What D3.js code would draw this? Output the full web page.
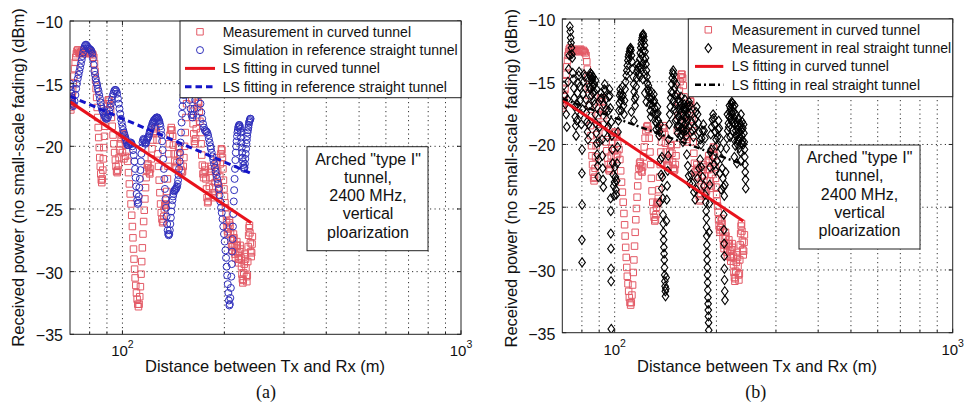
<!DOCTYPE html>
<html>
<head>
<meta charset="utf-8">
<script src="https://cdn.jsdelivr.net/npm/d3@7"></script>
<style>
  html, body { margin: 0; padding: 0; background: #fff; }
  svg { display: block; }
  text { font-family: "Liberation Sans", Arial, Helvetica, sans-serif; fill: #111; }
</style>
</head>
<body>
<svg id="fig" width="965" height="409"></svg>
<script>
// Received power vs Tx-Rx distance, [distance (m), power (dBm)]
const curvedMeasurement = [
  [70.0,-16.9],[70.2,-16.5],[70.4,-17.1],[70.6,-16.7],[70.8,-16.2],[71.0,-16.0],
  [71.3,-15.6],[71.6,-15.0],[71.9,-14.4],[72.2,-13.8],[72.5,-13.3],[72.8,-12.9],[73.1,-12.6],[73.4,-12.4],
  [73.8,-12.3],[74.3,-12.5],[74.8,-12.6],[75.3,-12.5],[75.8,-12.4],[76.3,-12.5],[76.8,-12.6],[77.3,-12.5],[77.8,-12.5],[78.3,-12.6],[78.8,-12.5],[79.3,-12.4],[79.8,-12.5],[80.3,-12.6],[80.8,-12.5],[81.3,-12.6],[81.8,-12.7],[82.3,-12.9],
  [82.7,-13.4],[83.0,-14.0],[83.3,-14.7],[83.6,-15.4],[83.9,-16.1],[84.2,-16.9],[84.5,-17.7],[84.8,-18.5],[85.1,-19.3],[85.4,-20.1],[85.7,-20.9],[86.0,-21.6],[86.3,-22.2],[86.6,-22.7],[86.9,-22.9],[87.2,-22.6],
  [87.5,-21.9],[87.8,-21.0],[88.1,-20.1],[88.5,-19.2],[88.9,-18.4],[89.3,-17.7],[89.8,-17.1],[90.3,-16.6],[90.8,-16.3],[91.3,-16.3],[91.8,-16.6],
  [92.3,-17.1],[92.8,-17.7],[93.3,-18.4],[93.8,-19.1],[94.3,-19.8],[94.8,-20.5],[95.3,-21.1],[95.7,-21.6],[96.1,-22.0],[96.5,-22.1],[96.9,-21.9],[97.3,-21.5],
  [97.7,-20.9],[98.1,-20.3],[98.6,-19.8],[99.1,-19.4],[99.7,-19.1],[100.3,-19.0],[100.9,-19.1],[101.5,-19.4],[102.1,-19.9],
  [100.0,-20.5],[101.0,-21.0],[102.0,-20.8],
  [103.0,-20.4],[103.6,-21.2],[104.2,-22.1],[104.8,-23.0],[105.4,-23.8],[106.0,-24.6],[106.5,-25.5],[107.0,-26.4],[107.4,-27.3],[107.8,-28.2],[108.2,-29.0],[108.6,-29.8],[109.0,-30.5],[109.5,-31.1],[110.0,-31.7],[110.5,-32.2],[111.0,-32.6],[111.5,-32.8],[112.0,-32.6],[112.5,-32.0],[113.0,-31.2],[113.5,-30.2],[114.0,-29.2],[114.5,-28.1],[115.0,-27.0],[115.5,-26.0],[116.0,-25.1],
  [116.5,-24.2],[117.0,-23.3],[117.5,-22.5],[118.0,-21.9],[118.5,-21.5],[119.0,-21.4],[119.5,-21.7],[120.0,-22.1],[120.5,-22.2],
  [121.0,-21.8],[121.7,-21.0],[122.3,-20.2],[123.0,-19.5],[123.7,-18.9],[124.4,-18.6],[125.1,-18.5],[125.8,-18.8],[126.5,-19.5],
  [127.2,-20.6],[127.8,-21.6],[128.4,-22.7],[129.0,-23.7],[129.6,-24.6],[130.2,-25.3],[130.8,-25.8],[131.4,-26.1],[132.0,-26.0],[132.5,-25.6],[133.0,-25.0],[133.4,-24.7],[133.8,-24.6],[134.2,-24.7],[134.6,-24.3],
  [135.2,-23.6],[135.8,-22.6],[136.4,-21.6],[137.0,-20.6],[137.6,-19.8],[138.2,-19.1],[138.8,-18.7],[139.4,-18.5],[140.0,-18.7],[140.7,-19.2],[141.4,-19.9],[142.1,-20.6],[142.8,-21.2],[143.5,-21.6],[144.2,-21.7],[144.9,-21.3],[145.6,-20.6],[146.3,-20.0],[147.0,-20.1],[147.7,-20.7],[148.4,-21.4],[149.1,-21.9],[149.8,-22.1],[150.5,-22.0],[151.2,-21.6],[151.9,-20.9],
  [152.6,-20.0],[153.3,-18.9],[154.0,-17.7],[154.7,-16.6],[155.4,-15.7],[156.1,-15.0],[156.8,-14.6],[157.5,-14.4],[158.2,-14.4],[158.9,-14.7],[159.6,-15.3],[160.3,-16.2],[161.0,-17.2],[161.7,-18.2],[162.4,-19.0],[163.1,-19.6],[163.8,-19.8],[164.5,-19.4],[165.2,-18.6],[165.9,-17.7],[166.6,-16.9],[167.3,-16.5],[168.0,-16.6],[168.7,-17.2],[169.4,-18.0],[170.1,-18.9],[170.8,-19.8],[171.5,-20.7],[172.2,-21.5],[172.9,-22.2],[173.6,-22.5],[174.3,-22.1],[175.0,-21.6],[175.7,-21.9],[176.4,-22.6],[177.1,-23.4],[177.8,-24.1],[178.5,-24.5],[179.2,-24.4],[179.9,-23.9],[180.6,-23.2],[181.3,-22.5],
  [182.0,-22.0],[182.7,-21.6],[183.4,-21.8],[184.1,-22.5],[184.8,-23.3],[185.5,-23.9],[186.2,-24.1],[186.9,-23.7],[187.6,-22.9],[188.3,-22.0],[189.0,-21.3],[189.7,-20.9],[190.4,-21.2],[191.1,-22.0],[191.8,-22.9],[192.5,-23.5],[193.2,-23.3],[193.9,-22.4],[194.6,-21.4],[195.3,-20.6],[196.0,-20.2],[196.7,-20.3],[197.4,-20.9],[198.1,-21.8],[198.8,-22.7],[199.5,-23.4],[200.2,-24.0],[200.9,-24.5],
  [201.6,-24.9],[202.3,-25.4],[203.0,-26.0],[203.7,-26.5],[204.4,-26.8],[205.1,-27.0],[205.8,-26.6],[206.5,-26.1],[207.2,-25.9],[207.9,-26.3],[208.6,-26.9],[209.3,-27.5],[210.0,-28.0],[210.7,-28.3],[211.4,-28.0],[212.1,-27.4],[212.8,-27.0],[213.5,-27.3],[214.2,-27.9],[214.9,-28.6],
  [215.6,-28.9],[216.3,-28.4],[217.0,-27.9],[217.7,-27.6],[218.4,-27.9],[219.1,-28.5],[219.8,-29.0],[220.5,-29.3],[221.2,-29.0],[221.9,-28.4],[222.6,-27.9],[223.3,-28.2],[224.0,-28.9],[224.7,-29.6],[225.4,-30.2],[226.1,-30.6],[226.8,-30.9],[227.5,-30.7],[228.2,-30.1],[228.9,-29.4],[229.6,-28.8],[230.3,-28.6],[231.0,-29.0],[231.7,-29.7],[232.4,-30.4],[233.1,-30.8],[233.8,-30.3],[234.5,-29.2],[235.2,-28.0],[235.9,-27.1],[236.6,-26.5],[237.3,-26.3],[238.0,-26.9],[238.7,-27.7],[239.4,-28.4],[240.1,-28.8],[240.8,-28.5],[241.5,-27.8],[242.0,-27.2]
];

const referenceSimulation = [
  [70.0,-15.0],[70.2,-15.2],[70.4,-15.5],[70.6,-15.8],[70.8,-16.1],[71.0,-16.4],[71.2,-16.6],[71.5,-16.8],[71.8,-16.7],
  [72.2,-16.4],[72.6,-15.9],[73.0,-15.4],[73.4,-15.0],[73.8,-14.6],[74.2,-14.3],[74.6,-14.0],[75.0,-13.7],[75.4,-13.4],[75.8,-13.1],[76.2,-12.8],[76.6,-12.5],[77.0,-12.2],[77.4,-12.0],[77.8,-11.9],[78.2,-11.9],[78.6,-12.0],[79.0,-12.1],[79.4,-12.2],[79.8,-12.2],[80.2,-12.3],[80.6,-12.3],[81.0,-12.4],[81.4,-12.6],
  [81.8,-13.0],[82.2,-13.5],[82.6,-14.0],[83.0,-14.3],[83.4,-14.6],[83.8,-14.9],[84.2,-15.1],[84.6,-15.4],[85.0,-15.6],[85.4,-15.9],[85.8,-16.2],[86.2,-16.5],[86.6,-16.8],[87.0,-17.0],[87.4,-17.2],[87.8,-17.3],[88.2,-17.5],[88.6,-17.6],[89.0,-17.7],[89.4,-17.8],
  [90.0,-17.8],[90.5,-17.7],[91.0,-17.5],[91.5,-17.2],[92.0,-16.9],[92.5,-16.6],[93.0,-16.3],[93.5,-16.0],[94.0,-15.8],[94.5,-15.6],[95.0,-15.5],[95.5,-15.5],[96.0,-15.6],[96.5,-15.8],[97.0,-16.2],[97.5,-16.6],[98.0,-17.0],[98.5,-17.4],[99.0,-17.8],[99.5,-18.1],[100.0,-18.4],[100.5,-18.7],[101.0,-18.9],[101.5,-19.1],[102.0,-19.3],[102.5,-19.5],[103.0,-19.7],[103.5,-19.9],
  [104.0,-19.9],[104.5,-19.9],[105.0,-19.8],[105.5,-19.7],[106.0,-19.7],[106.5,-19.8],[107.0,-20.0],[107.5,-20.3],[108.0,-20.7],[108.5,-21.2],[109.0,-21.8],[109.4,-22.5],[109.8,-23.2],[110.2,-23.8],[110.6,-24.3],[111.0,-24.6],[111.4,-24.5],[111.8,-24.0],[112.2,-23.3],[112.6,-22.6],[113.0,-21.9],[113.4,-21.2],[113.8,-20.6],[114.2,-20.1],[114.6,-19.7],[115.0,-19.5],[115.5,-19.4],[116.0,-19.5],[116.5,-19.7],[117.0,-19.8],[117.5,-19.7],[118.0,-19.5],
  [118.5,-19.4],[119.0,-19.3],[119.5,-19.2],[120.0,-19.0],[120.5,-18.8],[121.0,-18.7],[121.5,-18.5],[122.0,-18.4],[122.5,-18.2],[123.0,-18.1],[123.5,-18.0],[124.0,-17.9],[124.5,-17.9],[125.0,-17.8],[125.5,-17.8],[126.0,-17.7],[126.5,-17.7],[127.0,-17.7],[127.5,-17.8],[128.0,-17.9],[128.5,-18.0],[129.0,-18.2],[129.5,-18.4],[130.0,-18.7],
  [130.5,-19.1],[131.0,-19.6],[131.5,-20.3],[132.0,-21.0],[132.5,-21.8],[133.0,-22.6],[133.5,-23.4],[134.0,-24.2],[134.5,-24.9],[135.0,-25.6],[135.5,-26.2],[136.0,-26.7],[136.5,-27.0],[137.0,-27.1],[137.5,-27.0],[138.0,-26.7],[138.5,-26.2],[139.0,-25.7],[139.5,-25.2],[140.0,-24.7],[140.5,-24.3],[141.0,-24.0],[141.5,-23.8],[142.0,-23.6],[142.5,-23.5],[143.0,-23.5],[143.5,-23.4],[144.0,-23.4],[144.5,-23.3],[145.0,-23.2],[145.5,-23.0],[146.0,-22.7],[146.5,-22.3],[147.0,-21.8],[147.5,-21.2],[148.0,-20.5],[148.5,-19.7],[149.0,-18.9],[149.5,-18.1],[150.0,-17.4],[150.5,-16.8],[151.0,-16.3],[151.5,-15.9],[152.0,-15.5],
  [153.0,-15.0],[154.0,-14.6],[155.0,-14.5],[156.0,-14.8],[157.0,-15.5],[158.0,-16.3],[159.0,-17.0],[160.0,-17.5],[161.0,-17.7],[162.0,-17.5],[163.0,-17.0],[164.0,-16.3],[165.0,-15.6],[166.0,-15.1],[167.0,-15.0],[168.0,-15.3],[169.0,-15.9],[170.0,-16.6],[171.0,-17.3],[172.0,-17.8],[173.0,-18.2],[174.0,-18.5],[175.0,-18.7],[176.0,-18.8],[177.0,-18.8],[178.0,-18.9],[179.0,-19.1],[180.0,-19.4],[181.0,-19.7],[182.0,-20.0],
  [182.5,-20.2],[183.5,-20.5],[184.5,-20.8],[185.5,-21.1],[186.5,-21.4],[187.5,-21.7],[188.5,-22.0],[189.5,-22.3],[190.5,-22.6],[191.5,-23.0],[192.5,-23.4],[193.5,-23.9],[194.5,-24.4],[195.5,-24.9],[196.5,-25.3],[197.5,-25.8],[198.5,-26.4],[199.5,-27.0],[200.5,-27.6],[201.5,-28.3],[202.3,-28.9],[203.1,-29.6],[203.9,-30.3],[204.7,-31.0],[205.5,-31.7],[206.2,-32.3],[206.9,-32.7],[207.6,-32.6],[208.3,-32.1],[209.0,-31.3],[209.6,-30.4],[210.2,-29.4],[210.8,-28.4],[211.4,-27.4],[212.0,-26.4],[212.6,-25.4],[213.2,-24.4],[213.8,-23.5],[214.4,-22.6],[215.0,-21.8],[215.6,-21.1],[216.2,-20.5],[216.8,-20.0],[217.4,-19.6],[218.0,-19.2],[218.6,-18.9],[219.2,-18.7],[219.8,-18.5],[220.4,-18.4],[221.0,-18.3],[221.6,-18.3],[222.2,-18.4],[222.8,-18.6],[223.4,-18.9],[224.0,-19.3],[224.6,-19.7],[225.2,-20.1],[225.8,-20.5],[226.4,-20.9],[227.0,-21.2],[227.6,-21.5],[228.2,-21.7],[228.8,-21.8],[229.4,-21.7],[230.0,-21.4],[230.6,-21.0],[231.2,-20.6],[231.8,-20.2],[232.4,-19.8],[233.0,-19.5],[233.6,-19.2],[234.2,-18.9],[234.8,-18.7],[235.4,-18.5],[236.0,-18.3],[236.6,-18.1],[237.2,-18.0],[237.8,-17.9],[238.4,-17.8],[239.0,-17.8]
];

const straightMeasurement = [
  [70.8,-15.3],[71.2,-16.1],[71.5,-16.8],[71.9,-17.6],[72.2,-18.6],[72.5,-16.4],[72.8,-15.0],[73.1,-14.0],[73.4,-12.9],[73.7,-10.6],[73.9,-11.0],[74.1,-11.5],[74.3,-11.9],[74.5,-12.3],[74.7,-12.8],[74.9,-13.1],
  [75.2,-14.3],[75.4,-14.8],[75.7,-15.5],[75.9,-16.3],[76.2,-17.0],[76.4,-17.8],[76.7,-18.5],[76.9,-19.3],[77.2,-18.1],[77.5,-16.8],[77.7,-15.9],[78.0,-15.1],[78.3,-14.5],[78.5,-14.2],[78.8,-15.4],[79.1,-16.5],[79.4,-17.6],[79.7,-18.4],
  [80.1,-20.4],[80.0,-22.3],[80.1,-24.8],[80.0,-27.6],[80.1,-29.4],[80.4,-17.2],[80.7,-16.0],[81.0,-15.0],[81.2,-14.4],
  [81.6,-14.6],[81.9,-15.5],[82.2,-16.4],[82.5,-17.5],[82.8,-18.2],[83.1,-19.0],[83.4,-19.6],[83.7,-18.4],[84.0,-16.9],[84.3,-15.4],[84.6,-14.5],[84.8,-14.3],[85.0,-14.6],[85.2,-14.9],[85.4,-14.4],[85.6,-14.7],[85.8,-15.1],[86.0,-14.8],[86.2,-15.4],[86.4,-15.9],[86.7,-16.5],[87.0,-15.8],[87.3,-16.8],[87.6,-17.6],[87.9,-18.3],[88.2,-19.1],[88.5,-19.9],[88.8,-20.8],[89.1,-21.7],[89.4,-22.6],[89.7,-21.2],[90.0,-19.8],[90.3,-18.6],[90.6,-17.4],[90.9,-16.4],[91.2,-15.9],[91.5,-16.3],[91.8,-19.6],[92.0,-20.9],[92.2,-21.9],[92.4,-22.8],[92.6,-23.4],
  [84.7,-15.6],[85.5,-16.1],[86.3,-14.6],[87.1,-15.2],[87.8,-14.9],[88.4,-15.6],
  [92.9,-16.8],[93.2,-15.6],[93.5,-15.2],[93.8,-15.7],[94.1,-16.4],[94.4,-17.2],[94.7,-18.0],[95.0,-18.7],[95.3,-19.4],[95.6,-18.6],[95.9,-17.3],[96.2,-16.2],[96.5,-15.6],[96.8,-16.1],[97.1,-17.1],
  [97.3,-24.3],[97.4,-25.3],[97.4,-27.1],[97.5,-28.3],[97.6,-29.9],[97.6,-30.9],[97.7,-34.7],[97.8,-18.2],[98.1,-19.3],
  [98.4,-20.4],[98.7,-21.5],[99.0,-22.4],[99.3,-23.3],[99.6,-24.1],[99.9,-23.0],[100.2,-21.8],[100.5,-22.6],[100.8,-23.6],[101.1,-24.0],[101.4,-22.9],[101.7,-21.5],[102.0,-20.2],[102.3,-19.0],[102.6,-18.1],[102.9,-17.3],[103.2,-16.7],[103.5,-16.1],[103.8,-15.6],[104.1,-15.9],[104.4,-16.5],[104.7,-17.3],
  [105.0,-16.2],[105.4,-15.4],[105.8,-16.1],[106.2,-16.9],[106.6,-17.6],[107.0,-16.5],[107.4,-15.6],[107.8,-15.0],[108.2,-14.5],[108.6,-14.1],[109.0,-13.7],[109.4,-13.3],[109.8,-13.0],[110.2,-12.8],[110.6,-12.6],[111.0,-12.4],[111.4,-12.3],[111.8,-12.5],[112.2,-12.9],[112.6,-13.4],[113.0,-14.0],[113.4,-14.6],[113.8,-15.2],[114.2,-15.8],[114.6,-16.4],[115.0,-16.9],[115.4,-16.2],[115.8,-15.4],[116.2,-14.7],[116.6,-14.1],[117.0,-13.6],[117.4,-13.9],[117.8,-14.4],[112.0,-17.4],[114.0,-18.1],
  [118.2,-13.8],[118.6,-13.2],[119.0,-12.7],[119.4,-12.3],[119.8,-12.0],[120.2,-11.7],[120.6,-11.5],[121.0,-11.3],[121.4,-11.2],[121.8,-11.4],[122.2,-11.7],[122.6,-12.1],[123.0,-12.6],[123.4,-13.1],[123.8,-13.6],[124.2,-14.1],[124.6,-14.6],[125.0,-15.1],[125.4,-15.6],[125.8,-15.3],[126.2,-15.8],[126.6,-16.3],[127.0,-16.8],[127.4,-17.3],[127.8,-17.8],
  [120.0,-12.9],[120.8,-13.6],[121.6,-12.5],[122.4,-13.3],[123.2,-14.4],[121.2,-14.8],[119.6,-13.9],[118.8,-14.6],[122.8,-15.9],[124.0,-16.6],
  [128.2,-16.4],[128.6,-15.8],[129.0,-16.2],[129.4,-16.9],[129.8,-17.5],[130.2,-16.6],[130.6,-16.0],[131.0,-16.5],[131.4,-17.1],[131.8,-17.6],[132.2,-18.2],[132.6,-18.8],[133.0,-18.3],[133.4,-17.6],[133.8,-17.0],[134.2,-17.5],[134.6,-18.1],[135.0,-18.7],[135.4,-19.3],[135.8,-19.0],[136.2,-18.4],
  [136.6,-21.2],[137.2,-22.4],[137.8,-23.5],[136.0,-24.6],
  [138.0,-21.0],[138.4,-22.6],[138.8,-24.3],[139.0,-25.6],[139.2,-26.3],[139.4,-27.0],[139.6,-27.6],[139.8,-28.2],[140.0,-28.7],[140.2,-29.2],[140.4,-29.8],[140.6,-30.4],[140.8,-30.9],[141.0,-31.3],[141.2,-31.7],[141.4,-32.1],[141.7,-31.5],[142.0,-30.6],[142.3,-26.1],[142.6,-24.4],[143.0,-23.3],[143.5,-22.1],[144.0,-20.9],[144.5,-19.6],[145.0,-18.4],[145.5,-17.6],[146.0,-17.0],[146.5,-16.3],
  [147.0,-15.8],[147.5,-15.2],[148.0,-14.7],[148.5,-14.3],[149.0,-14.1],[149.5,-14.4],[150.0,-14.9],[150.5,-15.5],[151.0,-16.1],[151.5,-16.8],[152.0,-17.4],[152.5,-18.0],[153.0,-18.6],[153.5,-19.1],[154.0,-18.5],[154.5,-17.8],[155.0,-17.2],[155.5,-16.6],[156.0,-16.9],[156.5,-17.5],[157.0,-18.1],[157.5,-18.7],[158.0,-19.2],[158.5,-18.9],[159.0,-18.2],[159.5,-17.6],[160.0,-17.1],[160.5,-16.8],[161.0,-17.3],[161.5,-17.9],[162.0,-18.4],[162.5,-18.9],[163.0,-19.3],[163.5,-18.8],[164.0,-18.1],[164.5,-17.5],[165.0,-17.0],
  [148.2,-15.9],[149.2,-16.5],[150.2,-17.2],[151.2,-18.1],[152.2,-15.2],[153.2,-16.0],[154.2,-16.4],[155.2,-18.6],[156.2,-19.3],[157.2,-16.2],[158.2,-17.0],[159.2,-19.8],[160.2,-18.8],[161.2,-16.4],[162.2,-17.1],[163.2,-17.8],[164.2,-16.8],
  [163.5,-20.8],[164.5,-21.7],[165.5,-22.5],[166.5,-23.1],
  [166.0,-16.6],[167.0,-16.9],[168.0,-17.5],[169.0,-18.2],[170.0,-18.9],[171.0,-19.4],[172.0,-18.7],[173.0,-18.0],[174.0,-17.4],[175.0,-17.0],[176.0,-17.6],[177.0,-18.3],[178.0,-19.0],[179.0,-19.6],[180.0,-20.0],[181.0,-19.5],[182.0,-18.9],[183.0,-18.4],[184.0,-18.9],[185.0,-19.5],
  [168.5,-22.4],[170.0,-23.1],[171.5,-23.8],[173.0,-24.4],[174.5,-23.6],[176.0,-22.7],[177.5,-21.9],[179.0,-21.2],[180.5,-21.8],[182.0,-22.6],[183.5,-23.3],[185.0,-24.0],[186.0,-24.6],[186.5,-25.3],
  [186.8,-25.9],[187.0,-26.6],[187.2,-27.3],[187.4,-28.0],[187.6,-28.6],[187.8,-29.2],[188.0,-29.8],[188.2,-30.4],[188.4,-31.0],[188.6,-31.6],[188.8,-32.2],[189.0,-32.7],[189.2,-33.2],[189.4,-33.7],[189.6,-34.2],[189.8,-34.8],[190.2,-27.0],[190.6,-24.7],[191.0,-23.2],[191.5,-21.8],[192.0,-20.6],
  [192.5,-19.2],[193.5,-18.6],[194.5,-18.0],[195.5,-17.6],[196.5,-17.9],[197.5,-18.4],[198.5,-19.0],[199.5,-19.6],[200.5,-20.1],[201.5,-19.4],[202.5,-18.8],[193.0,-20.4],[195.0,-21.0],[197.0,-21.6],[199.0,-22.1],[201.0,-21.3],
  [203.0,-18.1],[204.0,-18.7],[205.0,-19.5],[206.0,-20.3],[207.0,-21.1],[208.0,-21.9],[209.0,-22.7],[210.0,-23.4],[211.0,-24.1],[212.0,-23.2],[213.0,-22.2],[204.5,-22.3],[206.5,-23.6],
  [210.2,-25.6],[210.5,-26.8],[210.8,-27.9],[211.0,-28.9],[211.2,-29.9],[211.4,-30.8],[211.7,-31.7],[212.0,-32.4],
  [214.0,-20.3],[215.0,-19.5],[216.0,-18.9],[217.0,-18.3],[218.0,-17.8],[219.0,-17.4],[220.0,-17.1],[221.0,-16.8],[222.0,-16.6],[223.0,-16.7],[224.0,-17.0],[225.0,-17.4],[226.0,-17.9],[227.0,-18.4],[228.0,-18.9],[229.0,-19.3],[230.0,-19.7],[231.0,-20.0],[232.0,-19.6],[233.0,-19.1],[234.0,-18.6],[235.0,-18.3],[236.0,-18.5],[237.0,-18.9],[238.0,-19.3],[239.0,-19.7],[240.0,-20.0],
  [215.5,-17.6],[217.5,-18.6],[219.5,-19.4],[221.5,-18.1],[223.5,-18.9],[225.5,-19.6],[227.5,-20.1],[229.5,-18.2],[231.5,-18.8],[233.5,-20.3],[235.5,-20.6],[237.5,-19.9],[239.5,-18.7],
  [218.5,-16.9],[220.5,-17.9],[222.5,-17.5],[224.5,-18.2],[226.5,-16.9],[228.5,-17.6],[230.5,-18.5],[232.5,-17.9],[234.5,-19.5],[236.5,-17.6],[238.5,-18.2],[226.0,-21.0],[230.0,-21.5],[236.0,-21.3],
  [240.8,-18.4],[241.3,-19.1],[241.8,-19.8],[242.2,-20.4],[242.6,-21.0],[243.0,-21.6],[243.4,-22.2],[243.8,-22.8],[244.2,-23.5]
];

// Least-squares fits (end points of each fitted line)
const fitCurved    = [[70, -16.45], [240, -26.1]];
const fitReference = [[70, -16.0],  [242, -22.2]];
const fitStraight  = [[70, -16.35], [241, -21.6]];

// Axis ticks
const yTickValues = [-10, -15, -20, -25, -30, -35];
const yGridValues = [-15, -20, -25, -30];
const xGridValues = [80, 90, 100, 200, 300, 400, 500, 600, 700, 800, 900];
const xMinorTicks = [80, 90, 200, 300, 400, 500, 600, 700, 800, 900];
const xMajorTicks = [100, 1000];
const xTickLabels = [["10", "2"], ["10", "3"]];

// Text
const legendLabelsA = ["Measurement in curved tunnel", "Simulation in reference straight tunnel",
                       "LS fitting in curved tunnel", "LS fitting in reference straight tunnel"];
const legendLabelsB = ["Measurement in curved tunnel", "Measurement in real straight tunnel",
                       "LS fitting in curved tunnel", "LS fitting in real straight tunnel"];
const noteLines = ['Arched "type I"', "tunnel,", "2400 MHz,", "vertical", "ploarization"];
const yTitle = "Received power (no small-scale fading) (dBm)";
const xTitle = "Distance between Tx and Rx (m)";

const colors = {
  redMarker: "#e35a66",
  redLine: "#e8121c",
  blueMarker: "#3030bc",
  blueLine: "#1414c8",
  black: "#000"
};

const svg = d3.select("#fig");

const squarePath = d3.symbol(d3.symbolSquare, 42)();
const diamondPath = "M0,-4.5L3.3,0L0,4.5L-3.3,0Z";

function markerNode(g, kind) {
  if (kind === "square") return g.append("path").attr("d", squarePath);
  if (kind === "circle") return g.append("circle").attr("r", 3.5);
  return g.append("path").attr("d", diamondPath);
}

// scale a group of text nodes so that the first one spans the given width
function fitWidth(nodes, width) {
  const first = nodes[0];
  const len = first.node().getComputedTextLength();
  if (!len) return;
  const k = width / len;
  if (Math.abs(k - 1) < 0.015) return;
  nodes.forEach(t => t.attr("font-size", +t.attr("font-size") * k));
}

function drawPanel(cfg) {
  const x = d3.scaleLog().domain([70, 1000]).range([cfg.left, cfg.right]);
  const y = d3.scaleLinear().domain([-35, -10]).range([cfg.bottom, cfg.top]);
  const g = svg.append("g");

  const clipId = "clip-" + cfg.id;
  svg.append("clipPath").attr("id", clipId).append("rect")
    .attr("x", cfg.left).attr("y", cfg.top)
    .attr("width", cfg.right - cfg.left).attr("height", cfg.bottom - cfg.top);

  // dotted grid
  const grid = g.append("g").attr("stroke", "#333").attr("stroke-width", 1)
    .attr("stroke-dasharray", "1.2,3.3");
  grid.selectAll(".gx").data(xGridValues).join("line")
    .attr("x1", d => x(d)).attr("x2", d => x(d))
    .attr("y1", cfg.top).attr("y2", cfg.bottom);
  grid.selectAll(".gy").data(yGridValues).join("line")
    .attr("x1", cfg.left).attr("x2", cfg.right)
    .attr("y1", d => y(d)).attr("y2", d => y(d));

  // markers
  const plot = g.append("g").attr("clip-path", `url(#${clipId})`);
  cfg.series.forEach(s => {
    const sg = plot.append("g").attr("fill", "none").attr("stroke", s.color).attr("stroke-width", s.width || 1);
    s.data.forEach(([d, v]) => {
      markerNode(sg, s.kind).attr("transform", `translate(${x(d)},${y(v)})`);
    });
  });

  // fitted lines
  const line = d3.line().x(d => x(d[0])).y(d => y(d[1]));
  cfg.fits.forEach(f => {
    plot.append("path").datum(f.data).attr("d", line)
      .attr("fill", "none").attr("stroke", f.color).attr("stroke-width", f.width)
      .attr("stroke-dasharray", f.dash || null);
  });

  // axes box and ticks
  g.append("rect").attr("x", cfg.left).attr("y", cfg.top)
    .attr("width", cfg.right - cfg.left).attr("height", cfg.bottom - cfg.top)
    .attr("fill", "none").attr("stroke", "#222").attr("stroke-width", 1);
  const ticks = g.append("g").attr("stroke", "#222").attr("stroke-width", 1);
  yTickValues.forEach(v => {
    ticks.append("line").attr("x1", cfg.left).attr("x2", cfg.left + 4).attr("y1", y(v)).attr("y2", y(v));
    ticks.append("line").attr("x1", cfg.right).attr("x2", cfg.right - 4).attr("y1", y(v)).attr("y2", y(v));
  });
  xMinorTicks.concat(xMajorTicks).forEach(d => {
    const len = xMajorTicks.includes(d) ? 4 : 2.5;
    ticks.append("line").attr("x1", x(d)).attr("x2", x(d)).attr("y1", cfg.bottom).attr("y2", cfg.bottom - len);
    ticks.append("line").attr("x1", x(d)).attr("x2", x(d)).attr("y1", cfg.top).attr("y2", cfg.top + len);
  });

  // tick labels
  g.selectAll(".yl").data(yTickValues).join("text")
    .attr("x", cfg.left - 7).attr("y", d => y(d) + 7)
    .attr("text-anchor", "end").attr("font-size", 16)
    .text(d => "\u2212" + Math.abs(d));
  xMajorTicks.forEach((d, i) => {
    const t = g.append("text").attr("x", x(d)).attr("y", cfg.bottom + 22)
      .attr("text-anchor", "middle").attr("font-size", 15);
    t.append("tspan").text(xTickLabels[i][0]);
    t.append("tspan").attr("font-size", 10.5).attr("dy", -8).text(xTickLabels[i][1]);
  });

  // axis titles and caption
  const yt = g.append("text").attr("transform", `translate(${cfg.yTitleX},${cfg.yTitleY}) rotate(-90)`)
    .attr("text-anchor", "middle").attr("font-size", 16.5).text(yTitle);
  fitWidth([yt], 338);
  const xt = g.append("text").attr("x", cfg.xTitleX).attr("y", 371.8)
    .attr("text-anchor", "middle").attr("font-size", 16.5).text(xTitle);
  fitWidth([xt], 240);
  g.append("text").attr("x", cfg.captionX).attr("y", 398)
    .attr("text-anchor", "middle").attr("font-size", 18)
    .style("font-family", '"Liberation Serif", "Times New Roman", serif')
    .text(cfg.caption);

  // legend
  const L = cfg.legend;
  const lg = g.append("g");
  lg.append("rect").attr("x", L.x).attr("y", L.y).attr("width", L.w).attr("height", L.h)
    .attr("fill", "#fff").attr("stroke", "#222").attr("stroke-width", 1);
  const legendTexts = [];
  L.items.forEach((it, i) => {
    const by = L.baseline0 + i * 18.3;
    const cy = by - 5;
    if (it.kind === "line") {
      lg.append("line").attr("x1", L.lineX0).attr("x2", L.lineX1).attr("y1", cy).attr("y2", cy)
        .attr("stroke", it.color).attr("stroke-width", it.width).attr("stroke-dasharray", it.dash || null);
    } else {
      markerNode(lg, it.kind).attr("transform", `translate(${L.markerX},${cy})`)
        .attr("fill", "none").attr("stroke", it.color).attr("stroke-width", it.sw || 1);
    }
    legendTexts.push(lg.append("text").attr("x", L.textX).attr("y", by).attr("font-size", 14).text(it.label));
  });
  fitWidth(legendTexts, 187);

  // annotation box
  const N = cfg.note;
  g.append("rect").attr("x", N.x).attr("y", N.y).attr("width", N.w).attr("height", N.h)
    .attr("fill", "#fff").attr("stroke", "#222").attr("stroke-width", 1);
  const noteTexts = noteLines.map((d, i) => g.append("text")
    .attr("x", N.cx).attr("y", N.baseline0 + i * 18.2)
    .attr("text-anchor", "middle").attr("font-size", 16).text(d));
  fitWidth(noteTexts, 105);
}

drawPanel({
  id: "a", left: 70, right: 461, top: 21, bottom: 334.3,
  series: [
    { data: curvedMeasurement, kind: "square", color: colors.redMarker },
    { data: referenceSimulation, kind: "circle", color: colors.blueMarker }
  ],
  fits: [
    { data: fitCurved, color: colors.redLine, width: 3 },
    { data: fitReference, color: colors.blueLine, width: 3, dash: "6.5,4" }
  ],
  yTitleX: 23.5, yTitleY: 177.5, xTitleX: 265, captionX: 266, caption: "(a)",
  legend: {
    x: 180, y: 21, w: 281, h: 76.7, textX: 222.7, markerX: 200, lineX0: 185, lineX1: 215, baseline0: 36.8,
    items: [
      { kind: "square", color: colors.redMarker, label: legendLabelsA[0] },
      { kind: "circle", color: colors.blueMarker, label: legendLabelsA[1] },
      { kind: "line", color: colors.redLine, width: 3, label: legendLabelsA[2] },
      { kind: "line", color: colors.blueLine, width: 3, dash: "6.5,4", label: legendLabelsA[3] }
    ]
  },
  note: { x: 307, y: 146.7, w: 121, h: 104, cx: 368, baseline0: 164.8 }
});

drawPanel({
  id: "b", left: 562.3, right: 952.7, top: 19, bottom: 332.7,
  series: [
    { data: curvedMeasurement, kind: "square", color: colors.redMarker },
    { data: straightMeasurement, kind: "diamond", color: colors.black, width: 1.1 }
  ],
  fits: [
    { data: fitCurved, color: colors.redLine, width: 3 },
    { data: fitStraight, color: colors.black, width: 2.4, dash: "6,3,2,3" }
  ],
  yTitleX: 517, yTitleY: 178.3, xTitleX: 757, captionX: 755.7, caption: "(b)",
  legend: {
    x: 688.3, y: 19, w: 264.4, h: 77.7, textX: 731.7, markerX: 708.3, lineX0: 695, lineX1: 723.3, baseline0: 34.8,
    items: [
      { kind: "square", color: colors.redMarker, label: legendLabelsB[0] },
      { kind: "diamond", color: colors.black, sw: 1.1, label: legendLabelsB[1] },
      { kind: "line", color: colors.redLine, width: 3, label: legendLabelsB[2] },
      { kind: "line", color: colors.black, width: 2.4, dash: "6,3,2,3", label: legendLabelsB[3] }
    ]
  },
  note: { x: 799, y: 145, w: 121, h: 104, cx: 859.5, baseline0: 163.2 }
});
</script>
</body>
</html>
